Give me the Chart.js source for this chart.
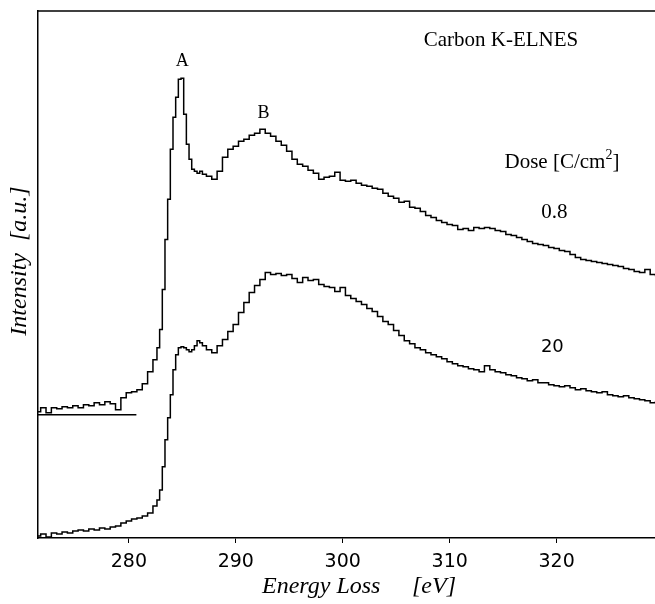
<!DOCTYPE html>
<html>
<head>
<meta charset="utf-8">
<script src="https://cdn.jsdelivr.net/npm/chart.js@4/dist/chart.umd.min.js"></script>
<style>
  body { margin: 0; background: #fff; }
</style>
</head>
<body>
<canvas id="graph_elnes" width="655" height="604"></canvas>
<script>
// energy loss [eV] (finer steps around the edge)
var energy = [
  271.5,272,272.5,273,273.5,274,274.5,275,275.5,276,276.5,277,277.5,278,278.5,279,279.5,280,280.5,281,281.5,282,282.5,
  282.75,283,283.25,283.5,283.75,284,284.25,284.5,284.75,285,285.25,285.5,285.75,286,286.25,286.5,286.75,287,
  287.5,288,288.5,289,289.5,290,290.5,291,291.5,292,292.5,293,293.5,294,294.5,295,295.5,296,296.5,297,297.5,
  298,298.5,299,299.5,300,300.5,301,301.5,302,302.5,303,303.5,304,304.5,305,305.5,306,306.5,307,307.5,
  308,308.5,309,309.5,310,310.5,311,311.5,312,312.5,313,313.5,314,314.5,315,315.5,316,316.5,317,317.5,
  318,318.5,319,319.5,320,320.5,321,321.5,322,322.5,323,323.5,324,324.5,325,325.5,326,326.5,327,327.5,
  328,328.5,329,329.5
];

// intensity [a.u.], dose 0.8 C/cm2 (upper spectrum)
var dose08 = [
  126,130,125,130,129,131,130,132,130,133,132,135,133,136,134,128,140,145,146,148,154,166,178,
  190,208,248,298,338,388,420,440,458,459,423,393,378,368,366,364,366,363,
  361,358,366,380,388,391,396,398,402,404,408,404,401,396,392,386,378,373,371,367,
  364,358,360,361,365,357,356,357,354,352,351,349,348,344,341,339,335,336,330,329,
  326,322,320,317,315,313,312,308,309,307,310,309,310,309,307,306,303,302,300,298,
  296,294,293,292,290,289,287,286,283,280,278,277,276,275,274,273,272,271,269,268,
  266,265,268,263,262
];

// intensity [a.u.], dose 20 C/cm2 (lower spectrum)
var dose20 = [
  2,4,1,5,4,6,5,7,8,7,9,8,10,9,11,12,15,17,19,20,22,25,32,
  38,48,71,98,120,143,168,183,190,191,190,188,186,188,192,197,195,192,
  188,185,192,198,206,213,225,235,245,252,258,265,263,264,262,263,259,255,260,257,
  258,253,251,250,246,250,242,239,236,233,229,226,221,216,213,207,202,197,194,190,
  188,185,183,181,179,176,174,172,171,169,168,166,172,168,166,165,163,162,160,159,
  157,158,155,155,153,152,151,152,150,148,149,147,146,145,146,143,142,141,142,140,
  139,138,137,135,136
];

// zero line of the upper spectrum
var baseE = [271.5, 280.7];
var baseI = [123, 123];

var xTicks = [280, 290, 300, 310, 320];

// text labels on the plot
var serif = "'Liberation Serif'";
var notes = [
  { text: "A", x: 285.0, y: 476, font: "18px " + serif },
  { text: "B", x: 292.6, y: 424, font: "18px " + serif },
  { text: "Carbon K-ELNES", x: 314.8, y: 497, font: "21px " + serif },
  { text: "0.8", x: 319.8, y: 325, font: "21px " + serif },
  { text: "20", x: 319.6, y: 190, font: "18px 'DejaVu Sans'" }
];

function toXY(xs, ys) {
  return xs.map(function (v, i) { return { x: v, y: ys[i] }; });
}

var textPlugin = {
  id: 'notes',
  afterDraw: function (chart) {
    var c = chart.ctx;
    var sx = chart.scales.x, sy = chart.scales.y;
    var area = chart.chartArea;
    c.save();
    // frame line on top
    c.strokeStyle = '#000';
    c.lineWidth = 1.5;
    c.beginPath();
    c.moveTo(area.left, area.top);
    c.lineTo(area.right, area.top);
    c.stroke();

    c.fillStyle = '#000';
    c.textAlign = 'center';
    c.textBaseline = 'middle';
    notes.forEach(function (n) {
      c.font = n.font;
      c.fillText(n.text, sx.getPixelForValue(n.x), sy.getPixelForValue(n.y));
    });

    // Dose [C/cm2] with a raised 2
    var dx = sx.getPixelForValue(320.5), dy = sy.getPixelForValue(375);
    c.font = "21px " + serif;
    var w1 = c.measureText("Dose [C/cm").width;
    var w3 = c.measureText("]").width;
    c.font = "14px " + serif;
    var w2 = c.measureText("2").width;
    var x0 = dx - (w1 + w2 + w3) / 2;
    c.textAlign = 'left';
    c.font = "21px " + serif;
    c.fillText("Dose [C/cm", x0, dy);
    c.fillText("]", x0 + w1 + w2, dy);
    c.font = "14px " + serif;
    c.fillText("2", x0 + w1, dy - 7);

    // x axis title, wide gap before the unit
    c.font = "italic 24px " + serif;
    c.fillText("Energy Loss", 262, 587);
    c.fillText("[eV]", 412, 587);

    // y axis title
    c.translate(20, 261);
    c.rotate(-Math.PI / 2);
    c.textAlign = 'center';
    c.fillText("Intensity  [a.u.]", 0, 0);
    c.restore();
  }
};

var ctx = document.getElementById("graph_elnes");

var myChart = new Chart(ctx, {
  type: 'line',
  data: {
    datasets: [{
      label: '0.8',
      data: toXY(energy, dose08),
      borderColor: '#000',
      borderWidth: 1.5,
      stepped: 'middle',
      pointRadius: 0
    }, {
      label: '20',
      data: toXY(energy, dose20),
      borderColor: '#000',
      borderWidth: 1.5,
      stepped: 'middle',
      pointRadius: 0
    }, {
      label: 'zero',
      data: toXY(baseE, baseI),
      borderColor: '#000',
      borderWidth: 1.5,
      pointRadius: 0
    }]
  },
  plugins: [textPlugin],
  options: {
    responsive: false,
    animation: false,
    devicePixelRatio: 1,
    plugins: {
      legend: { display: false },
      tooltip: { enabled: false }
    },
    layout: {
      padding: { left: 0, right: 0, top: 11, bottom: 0 }
    },
    scales: {
      x: {
        type: 'linear',
        min: 271.5,
        max: 329.2,
        afterFit: function (s) { s.height = 66; },
        afterBuildTicks: function (s) {
          s.ticks = xTicks.map(function (v) { return { value: v }; });
        },
        ticks: {
          color: '#000',
          padding: 8,
          font: { family: 'DejaVu Sans', size: 19 }
        },
        grid: {
          drawOnChartArea: false,
          drawTicks: true,
          tickLength: 5,
          color: '#000'
        },
        border: { display: true, color: '#000', width: 1.5 }
      },
      y: {
        min: 0,
        max: 526,
        afterFit: function (s) { s.width = 38; },
        ticks: { display: false },
        grid: { display: false },
        border: { display: true, color: '#000', width: 1.5 }
      }
    }
  }
});
</script>
</body>
</html>
